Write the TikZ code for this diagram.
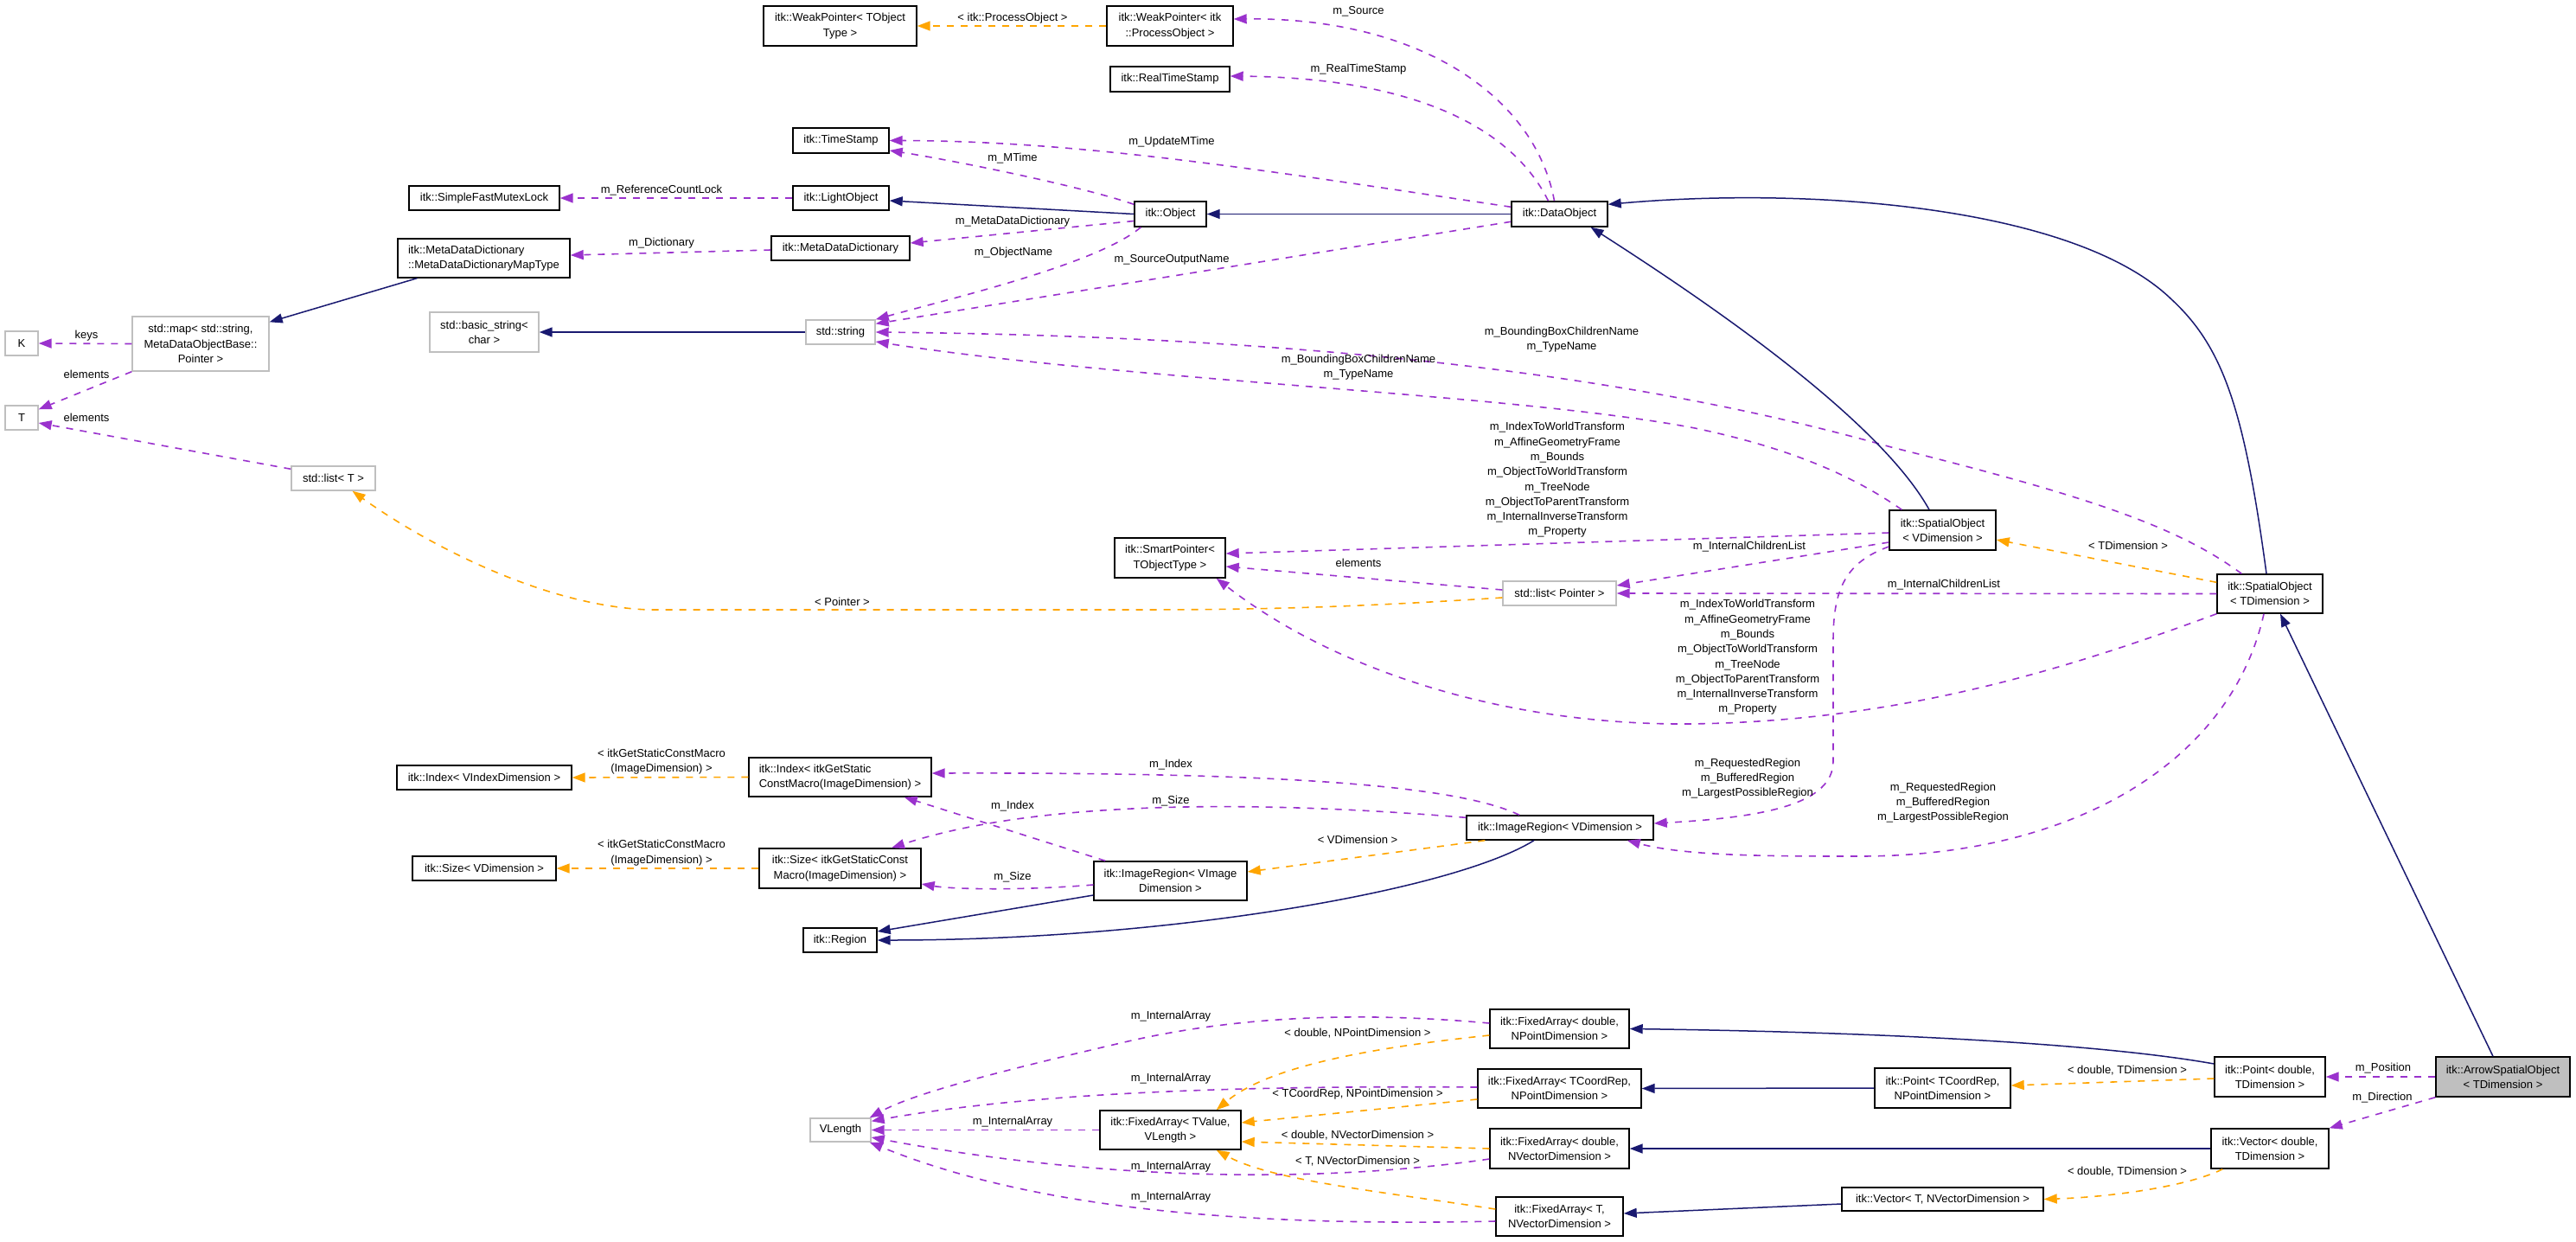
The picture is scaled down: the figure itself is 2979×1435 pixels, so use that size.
\documentclass[tikz,border=0pt]{standalone}
\usepackage{fontspec}
\setmainfont{Liberation Sans}
\usetikzlibrary{arrows.meta}
\definecolor{navy}{HTML}{191970}
\definecolor{purp}{HTML}{9A32CD}
\definecolor{orng}{HTML}{FFA500}
\definecolor{lgray}{HTML}{BFBFBF}
\newcommand{\fsz}{\fontsize{13}{17.3}\selectfont}
\begin{document}
\begin{tikzpicture}[x=1pt,y=-1pt,
 cls/.style={draw=black,line width=1.4pt,fill=white,inner sep=0pt,align=center,font=\fsz},
 ext/.style={cls,draw=lgray},
 lbl/.style={inner sep=0pt,align=center,font=\fsz},
 arrhd/.style={-{Triangle[length=15pt,width=11pt]}},
 inh/.style={draw=navy,line width=1.5pt,arrhd},
 use/.style={draw=purp,line width=1.6pt,dash pattern=on 8pt off 8pt,arrhd},
 tpl/.style={draw=orng,line width=1.6pt,dash pattern=on 8pt off 8pt,arrhd}]
\useasboundingbox (0,0) rectangle (2979,1435);

% ---------------- nodes ----------------
\node[cls,minimum width=177pt,minimum height=46pt] (wpT) at (971.5,30) {itk::WeakPointer< TObject\\Type >};
\node[cls,minimum width=146pt,minimum height=46pt] (wpP) at (1353,30) {itk::WeakPointer< itk\\::ProcessObject >};
\node[cls,minimum width=138pt,minimum height=29pt] (rts) at (1353,91.5) {itk::RealTimeStamp};
\node[cls,minimum width=111pt,minimum height=29pt] (ts) at (972.5,162.5) {itk::TimeStamp};
\node[cls,minimum width=174pt,minimum height=28pt] (sfml) at (560,229) {itk::SimpleFastMutexLock};
\node[cls,minimum width=111pt,minimum height=28pt] (lo) at (972.5,229) {itk::LightObject};
\node[cls,minimum width=83pt,minimum height=29pt] (obj) at (1353.5,247.5) {itk::Object};
\node[cls,minimum width=111pt,minimum height=29pt] (dobj) at (1803.5,247.5) {itk::DataObject};
\node[cls,align=left,minimum width=199pt,minimum height=45pt] (mddmt) at (559.5,298.5) {itk::MetaDataDictionary\\::MetaDataDictionaryMapType};
\node[cls,minimum width=160pt,minimum height=28pt] (mdd) at (972,287) {itk::MetaDataDictionary};
\node[ext,minimum width=126pt,minimum height=46pt] (bstr) at (560,384) {std::basic\_string<\\char >};
\node[ext,minimum width=80pt,minimum height=28pt] (str) at (972,384) {std::string};
\node[ext,minimum width=158pt,minimum height=63pt] (map) at (232,397.5) {std::map< std::string,\\MetaDataObjectBase::\\Pointer >};
\node[ext,minimum width=38pt,minimum height=28pt] (K) at (25,397) {K};
\node[ext,minimum width=38pt,minimum height=28pt] (T) at (25,483) {T};
\node[ext,minimum width=97pt,minimum height=28pt] (listT) at (385.5,553) {std::list< T >};
\node[cls,minimum width=123pt,minimum height=46pt] (sovd) at (2246.5,613) {itk::SpatialObject\\< VDimension >};
\node[cls,minimum width=122pt,minimum height=45pt] (sotd) at (2625,686.5) {itk::SpatialObject\\< TDimension >};
\node[cls,minimum width=128pt,minimum height=46pt] (sp) at (1353,645) {itk::SmartPointer<\\TObjectType >};
\node[ext,minimum width=131pt,minimum height=28pt] (listP) at (1803.5,686) {std::list< Pointer >};
\node[cls,minimum width=202pt,minimum height=28pt] (idxV) at (560,899) {itk::Index< VIndexDimension >};
\node[cls,align=left,minimum width=211pt,minimum height=45pt] (idxI) at (971.5,898.5) {itk::Index< itkGetStatic\\ConstMacro(ImageDimension) >};
\node[cls,minimum width=166pt,minimum height=28pt] (szV) at (560,1004) {itk::Size< VDimension >};
\node[cls,minimum width=187pt,minimum height=46pt] (szI) at (971.5,1004) {itk::Size< itkGetStaticConst\\Macro(ImageDimension) >};
\node[cls,minimum width=85pt,minimum height=28pt] (reg) at (971.5,1087) {itk::Region};
\node[cls,minimum width=216pt,minimum height=28pt] (irV) at (1804,957) {itk::ImageRegion< VDimension >};
\node[cls,minimum width=177pt,minimum height=45pt] (irI) at (1353.5,1018.5) {itk::ImageRegion< VImage\\Dimension >};
\node[ext,minimum width=70pt,minimum height=27pt] (vl) at (972,1306.5) {VLength};
\node[cls,minimum width=161pt,minimum height=45pt] (faP) at (1803.5,1189.5) {itk::FixedArray< double,\\NPointDimension >};
\node[cls,minimum width=189pt,minimum height=45pt] (faC) at (1803.5,1258.5) {itk::FixedArray< TCoordRep,\\NPointDimension >};
\node[cls,minimum width=163pt,minimum height=45pt] (faV) at (1353.5,1306.5) {itk::FixedArray< TValue,\\VLength >};
\node[cls,minimum width=161pt,minimum height=46pt] (faDV) at (1803.5,1328) {itk::FixedArray< double,\\NVectorDimension >};
\node[cls,minimum width=147pt,minimum height=45pt] (faT) at (1803.5,1406.5) {itk::FixedArray< T,\\NVectorDimension >};
\node[cls,fill=lgray,minimum width=155pt,minimum height=46pt] (aso) at (2894.5,1245) {itk::ArrowSpatialObject\\< TDimension >};
\node[cls,minimum width=128pt,minimum height=46pt] (ptD) at (2625,1245) {itk::Point< double,\\TDimension >};
\node[cls,minimum width=157pt,minimum height=46pt] (ptC) at (2246.5,1258) {itk::Point< TCoordRep,\\NPointDimension >};
\node[cls,minimum width=136pt,minimum height=46pt] (vcD) at (2625,1328) {itk::Vector< double,\\TDimension >};
\node[cls,minimum width=233pt,minimum height=27pt] (vcT) at (2246.5,1386.5) {itk::Vector< T, NVectorDimension >};

% ---------------- connectors ----------------
\draw[tpl] (wpP.west) -- (wpT.east);
\draw[use] ([xshift=-6pt]dobj.north) .. controls (1775,110) and (1640,20) .. ([yshift=8pt]wpP.east);
\draw[use] ([xshift=-13pt]dobj.north) .. controls (1750,150) and (1640,90) .. ([yshift=3.5pt]rts.east);
\draw[use] ([yshift=-7pt]dobj.north west) .. controls (1450,195) and (1250,163) .. (ts.east);
\draw[use] ([yshift=-4pt]obj.north west) .. controls (1250,215) and (1100,185) .. ([yshift=-11.5pt]ts.east);
\draw[inh] (obj.west) -- ([yshift=-3pt]lo.east);
\draw[use] (lo.west) -- (sfml.east);
\draw[inh] (dobj.west) -- (obj.east);
\draw[use] ([yshift=-8pt]obj.west) -- ([yshift=6pt]mdd.east);
\draw[use] ([yshift=-2pt]mdd.west) -- ([yshift=3.5pt]mddmt.east);
\draw[inh] ([xshift=23pt]mddmt.south west) -- ([yshift=-7pt]map.north east);
\draw[use] (map.west) -- (K.east);
\draw[use] (map.south west) -- ([yshift=-5pt]T.north east);
\draw[use] ([yshift=-4pt]listT.north west) -- ([yshift=-6pt]T.east);
\draw[inh] (str.west) -- (bstr.east);
\draw[use] ([xshift=8pt]obj.south west) .. controls (1270,305) and (1100,345) .. (str.north east);
\draw[use] ([yshift=-24pt]dobj.north west) -- ([yshift=-5pt]str.north east);
\draw[use] ([xshift=29pt]sotd.north west) .. controls (2520,610) and (2420,575) .. (2187,517) .. controls (1950,450) and (1600,390) .. (str.east);
\draw[use] ([xshift=15pt]sovd.north west) .. controls (2150,555) and (2080,520) .. (1960,495) .. controls (1750,455) and (1300,440) .. ([yshift=-11pt]str.east);
\draw[inh] ([xshift=-15.5pt]sovd.north) .. controls (2170,480) and (1960,340) .. ([xshift=36pt]dobj.south);
\draw[inh] ([xshift=-4pt]sotd.north) .. controls (2595,470) and (2570,400) .. (2510,345) .. controls (2400,240) and (2100,215) .. ([yshift=-4pt]dobj.north east);
\draw[tpl] ([yshift=-10pt]sotd.north west) -- ([yshift=-11pt]sovd.east);
\draw[use] ([yshift=-3pt]sovd.west) -- ([yshift=5pt]sp.east);
\draw[use] ([yshift=-14pt]sovd.west) -- ([yshift=9pt]listP.east);
\draw[use] ([yshift=4pt]listP.west) -- ([yshift=-10pt]sp.east);
\draw[tpl] ([yshift=-5pt]listP.west) .. controls (1550,703) and (1450,705) .. (1300,705) -- (750,705) .. controls (620,700) and (480,620) .. ([xshift=22pt]listT.south);
\draw[use] (sotd.west) -- (listP.east);
\draw[use] (sotd.south west) .. controls (2400,770) and (2200,835) .. (1950,837) .. controls (1750,838) and (1550,780) .. ([xshift=-11pt]sp.south east);
\draw[use] ([yshift=-19pt]sovd.west) .. controls (2135,650) and (2120,680) .. (2120,740) -- (2120,880) .. controls (2120,930) and (2040,945) .. ([yshift=5pt]irV.east);
\draw[use] ([xshift=-7pt]sotd.south) .. controls (2580,880) and (2400,990) .. (2150,990) .. controls (2050,990) and (1950,990) .. ([xshift=-31pt]irV.south east);
\draw[use] ([xshift=-47pt]irV.north) .. controls (1680,905) and (1450,893) .. ([yshift=4.5pt]idxI.east);
\draw[use] ([yshift=-3pt]irV.north west) .. controls (1450,925) and (1200,925) .. ([xshift=59.5pt]szI.north);
\draw[use] ([xshift=14pt]irI.north west) -- ([xshift=-32pt]idxI.south east);
\draw[use] ([yshift=-4.5pt]irI.west) .. controls (1180,1030) and (1100,1028) .. ([yshift=-18pt]szI.east);
\draw[tpl] (idxI.west) -- (idxV.east);
\draw[tpl] (szI.west) -- (szV.east);
\draw[inh] ([yshift=-16.5pt]irI.west) -- ([yshift=10pt]reg.east);
\draw[inh] ([xshift=-30pt]irV.south) .. controls (1680,1030) and (1350,1087) .. (reg.east);
\draw[tpl] ([xshift=22pt]irV.south west) -- ([yshift=10.5pt]irI.east);
\draw[inh] ([xshift=-11.5pt]aso.north) -- ([xshift=12pt]sotd.south);
\draw[use] (aso.west) -- (ptD.east);
\draw[use] (aso.south west) -- (vcD.north east);
\draw[tpl] ([yshift=-2pt]ptD.west) -- ([yshift=3pt]ptC.east);
\draw[tpl] ([xshift=14pt]vcD.south west) .. controls (2530,1372) and (2440,1384) .. (vcT.east);
\draw[inh] ([yshift=15pt]ptD.west) .. controls (2420,1205) and (2150,1193) .. (faP.east);
\draw[inh] (ptC.west) -- (faC.east);
\draw[inh] (vcD.west) -- (faDV.east);
\draw[inh] ([yshift=-5.5pt]vcT.west) -- ([yshift=3.5pt]faT.east);
\draw[use] ([yshift=6.5pt]faP.west) .. controls (1600,1172) and (1450,1170) .. (1300,1205) .. controls (1180,1233) and (1060,1262) .. ([xshift=-2pt]vl.north east);
\draw[tpl] ([yshift=-7.5pt]faP.west) .. controls (1600,1210) and (1470,1230) .. ([xshift=-29pt]faV.north east);
\draw[use] ([yshift=1.5pt]faC.west) .. controls (1450,1255) and (1200,1262) .. ([yshift=-4pt]vl.north east);
\draw[tpl] ([yshift=-12.5pt]faC.west) -- ([yshift=8.5pt]faV.east);
\draw[use] (faV.west) -- (vl.east);
\draw[tpl] (faDV.west) -- ([yshift=-13.5pt]faV.east);
\draw[use] ([yshift=-12pt]faDV.west) .. controls (1550,1365) and (1300,1370) .. ([yshift=-8.5pt]vl.east);
\draw[tpl] ([yshift=8.5pt]faT.west) .. controls (1600,1378) and (1470,1365) .. ([xshift=-29pt]faV.south east);
\draw[use] ([yshift=-5.5pt]faT.west) .. controls (1450,1418) and (1200,1400) .. ([xshift=-2pt]vl.south east);

% ---------------- labels ----------------
\node[lbl] (l1) at (1171,21) {< itk::ProcessObject >};
\node[lbl] (l2) at (1571,13) {m\_Source};
\node[lbl] (l3) at (1571,80) {m\_RealTimeStamp};
\node[lbl] (l4) at (1355,164) {m\_UpdateMTime};
\node[lbl] (l5) at (1171,183) {m\_MTime};
\node[lbl] (l6) at (765,220) {m\_ReferenceCountLock};
\node[lbl] (l7) at (1171,256) {m\_MetaDataDictionary};
\node[lbl] (l8) at (765,281) {m\_Dictionary};
\node[lbl] (l9) at (1172,292) {m\_ObjectName};
\node[lbl] (l10) at (1355,300) {m\_SourceOutputName};
\node[lbl] (l11) at (100,388) {keys};
\node[lbl] (l12) at (100,433) {elements};
\node[lbl] (l13) at (100,483) {elements};
\node[lbl] (l14) at (1806,392.5) {m\_BoundingBoxChildrenName\\m\_TypeName};
\node[lbl] (l15) at (1571,424.5) {m\_BoundingBoxChildrenName\\m\_TypeName};
\node[lbl] (l16) at (1801,555) {m\_IndexToWorldTransform\\m\_AffineGeometryFrame\\m\_Bounds\\m\_ObjectToWorldTransform\\m\_TreeNode\\m\_ObjectToParentTransform\\m\_InternalInverseTransform\\m\_Property};
\node[lbl] (l17) at (2023,632) {m\_InternalChildrenList};
\node[lbl] (l18) at (1571,651) {elements};
\node[lbl] (l19) at (2461,631) {< TDimension >};
\node[lbl] (l20) at (2248,676) {m\_InternalChildrenList};
\node[lbl] (l21) at (974,696) {< Pointer >};
\node[lbl] (l22) at (2021,760) {m\_IndexToWorldTransform\\m\_AffineGeometryFrame\\m\_Bounds\\m\_ObjectToWorldTransform\\m\_TreeNode\\m\_ObjectToParentTransform\\m\_InternalInverseTransform\\m\_Property};
\node[lbl] (l23) at (2021,900) {m\_RequestedRegion\\m\_BufferedRegion\\m\_LargestPossibleRegion};
\node[lbl] (l24) at (2247,928) {m\_RequestedRegion\\m\_BufferedRegion\\m\_LargestPossibleRegion};
\node[lbl] (l25) at (765,880.5) {< itkGetStaticConstMacro\\(ImageDimension) >};
\node[lbl] (l26) at (765,986) {< itkGetStaticConstMacro\\(ImageDimension) >};
\node[lbl] (l27) at (1354,884) {m\_Index};
\node[lbl] (l28) at (1354,926) {m\_Size};
\node[lbl] (l29) at (1171,932) {m\_Index};
\node[lbl] (l30) at (1171,1014) {m\_Size};
\node[lbl] (l31) at (1570,971) {< VDimension >};
\node[lbl] (l32) at (1354,1175) {m\_InternalArray};
\node[lbl] (l33) at (1570,1195) {< double, NPointDimension >};
\node[lbl] (l34) at (1354,1247) {m\_InternalArray};
\node[lbl] (l35) at (1570,1265) {< TCoordRep, NPointDimension >};
\node[lbl] (l36) at (1171,1297) {m\_InternalArray};
\node[lbl] (l37) at (1570,1313) {< double, NVectorDimension >};
\node[lbl] (l38) at (1570,1343) {< T, NVectorDimension >};
\node[lbl] (l39) at (1354,1349) {m\_InternalArray};
\node[lbl] (l40) at (1354,1384) {m\_InternalArray};
\node[lbl] (l41) at (2460,1238) {< double, TDimension >};
\node[lbl] (l42) at (2756,1235) {m\_Position};
\node[lbl] (l43) at (2755,1269) {m\_Direction};
\node[lbl] (l44) at (2460,1355) {< double, TDimension >};
\end{tikzpicture}
\end{document}
